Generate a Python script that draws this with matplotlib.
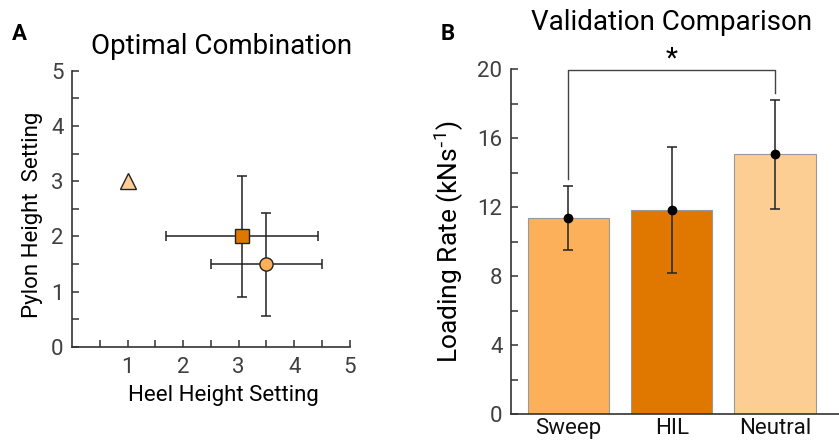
import matplotlib.pyplot as plt
import matplotlib as mpl

mpl.rcParams["font.family"] = ["Roboto", "DejaVu Sans"]
mpl.rcParams["axes.linewidth"] = 1.2
mpl.rcParams["axes.edgecolor"] = "#333333"

# Panel A: optimal combination (heel, pylon) with SD
heel_mean = [1.0, 3.06, 3.50]
heel_sd = [0.0, 1.37, 1.0]
pylon_mean = [3.0, 2.0, 1.5]
pylon_sd = [0.0, 1.09, 0.93]
markers = ["^", "s", "o"]

# Panel B: loading rate
conditions = ["Sweep", "HIL", "Neutral"]
loading_rate = [11.38, 11.83, 15.05]
loading_sd = [1.85, 3.67, 3.17]

colors_a = ["#FCCE94", "#E07800", "#FCB05A"]
colors_b = ["#FCB05A", "#E07800", "#FCCE94"]

fig = plt.figure(figsize=(8.39, 4.43), dpi=100)

# ---- Panel A ----
ax1 = fig.add_axes([0.0858, 0.2167, 0.331, 0.6236])
for i in range(len(heel_mean)):
    if heel_sd[i] > 0:
        ax1.errorbar(heel_mean[i], pylon_mean[i], xerr=heel_sd[i], yerr=pylon_sd[i],
                     fmt="none", ecolor="#222222", elinewidth=1.1, capsize=3.5, capthick=1.1, zorder=2)
    ms = 11 if markers[i] == "^" else 9.5
    ax1.plot(heel_mean[i], pylon_mean[i], marker=markers[i], markersize=ms,
             markerfacecolor=colors_a[i], markeredgecolor="#222222", markeredgewidth=1.0,
             linestyle="none", zorder=3)
ax1.set_xlim(0, 5)
ax1.set_ylim(0, 5)
ax1.set_xticks([1, 2, 3, 4, 5])
ax1.set_xticks([0.5, 1.5, 2.5, 3.5, 4.5], minor=True)
ax1.set_yticks([0, 1, 2, 3, 4, 5])
ax1.set_yticks([0.5, 1.5, 2.5, 3.5, 4.5], minor=True)
ax1.tick_params(which="both", direction="in", length=5, width=1.1, color="#333333",
                labelsize=16, labelcolor="#404040")
ax1.tick_params(axis="x", pad=7)
ax1.tick_params(axis="y", pad=6)
ax1.spines["top"].set_visible(False)
ax1.spines["right"].set_visible(False)
ax1.set_xlabel("Heel Height Setting", fontsize=16, labelpad=5, x=0.545)
ax1.set_ylabel("Pylon Height  Setting", fontsize=16, labelpad=6, y=0.48)
ax1.set_title("Optimal Combination", fontsize=20, pad=12, x=0.54)
fig.text(0.014, 0.91, "A", fontsize=16, fontweight="bold")

# ---- Panel B ----
ax2 = fig.add_axes([0.6087, 0.0648, 0.391, 0.7795])
x = range(len(conditions))
ax2.bar(x, loading_rate, width=0.79, color=colors_b, edgecolor="#999999", linewidth=0.8, zorder=1)
ax2.errorbar(x, loading_rate, yerr=loading_sd, fmt="o", color="black", markersize=6,
             ecolor="#222222", elinewidth=1.1, capsize=3.5, capthick=1.1, zorder=3)
ax2.set_xlim(-0.56, 2.62)
ax2.set_ylim(0, 20)
ax2.set_xticks(list(x))
ax2.set_xticklabels(conditions, fontsize=16, color="#111111")
ax2.set_yticks([0, 4, 8, 12, 16, 20])
ax2.set_yticks([2, 6, 10, 14, 18], minor=True)
ax2.tick_params(axis="y", which="both", direction="in", length=5, width=1.1, color="#333333",
                labelsize=16, labelcolor="#404040", pad=6)
ax2.tick_params(axis="x", length=0, pad=3)
ax2.spines["top"].set_visible(False)
ax2.spines["right"].set_visible(False)
ax2.set_ylabel("Loading Rate (kNs$^{\\mathregular{\\text{-}1}}$)", fontsize=19, labelpad=8)
ax2.set_title("Validation Comparison", fontsize=20, pad=28, x=0.49)

# significance bracket Sweep vs Neutral
ax2.plot([0, 0, 2, 2], [13.6, 19.95, 19.95, 18.6], color="#444444", linewidth=1.0, clip_on=False)
ax2.text(1, 19.8, "*", ha="center", va="bottom", fontsize=20)
fig.text(0.525, 0.91, "B", fontsize=16, fontweight="bold")

fig.savefig("out.png", dpi=100)
